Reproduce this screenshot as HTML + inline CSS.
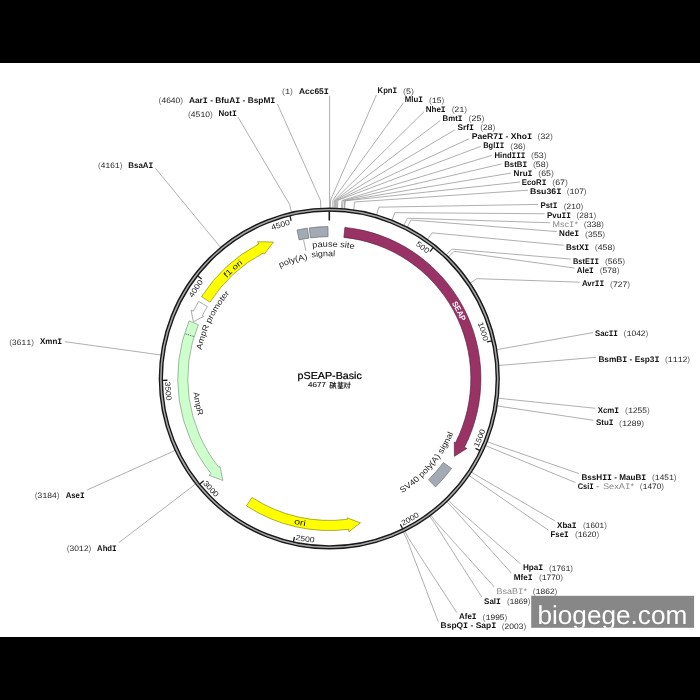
<!DOCTYPE html>
<html><head><meta charset="utf-8"><style>
html,body{margin:0;padding:0;background:#000;width:700px;height:700px;overflow:hidden}
svg{display:block;font-family:"Liberation Sans",sans-serif;will-change:transform;text-rendering:geometricPrecision}
</style></head><body>
<svg width="700" height="700" viewBox="0 0 700 700">
<rect x="0" y="0" width="700" height="700" fill="#000"/>
<rect x="0" y="63" width="700" height="574" fill="#fff"/>
<path d="M330.44,207.98L330.5,200.11L376.4,95M332.73,208.01L332.89,200.14L403.4,102.9M334.1,208.04L334.32,200.18L424,111.7M335.01,208.07L335.28,200.21L440.2,120.6M335.7,208.1L335.99,200.23L455.1,129.7M336.61,208.13L336.95,200.27L468.9,138.8M337.53,208.17L337.91,200.31L480.9,146.3M341.4,208.41L341.96,200.56L491.7,155.4M342.54,208.49L343.16,200.65L501.4,164M344.14,208.62L344.82,200.78L510.9,173.1M344.59,208.67L345.3,200.83L520,182M353.67,209.73L354.8,201.95L528,190.2M376.67,214.72L378.85,207.16L538,204.4M392.02,219.99L394.91,212.67L544.8,213.75M403.93,225.26L407.38,218.19L550.3,222.79M407.41,227.01L411.01,220.02L556.8,231.57M427.51,239.26L432.04,232.83L563.7,245.27M446.4,254.8L451.8,249.09L570.6,259.04M448.54,256.87L454.04,251.25L574.5,268.07M470.29,283.06L476.8,278.66L579.6,282.17M496.97,349.53L504.71,348.19L593,332.6M498.95,365.44L506.77,364.84L596.1,357.3M498.32,398.16L506.12,399.06L595.4,408.29M497.25,405.87L505,407.13L593.7,420.29M487.41,441.58L494.7,444.49L579.1,473.63M485.75,445.61L492.97,448.7L575.4,482.5M471.62,472.03L478.19,476.35L554.9,520.9M469.2,475.64L475.65,480.12L548.6,530.3M448.46,500.31L453.95,505.93L520.6,563.9M446.98,501.75L452.41,507.43L511.4,573.1M430.93,515.35L435.62,521.66L494.3,587M429.64,516.31L434.27,522.66L481.8,597M405.06,531.28L408.56,538.33L456.8,612.7M403.42,532.09L406.84,539.17L438.3,621.8M329.53,207.97L329.54,200.11L329.6,95.7M320.85,208.19L320.46,200.33L277.4,104M291.45,212.25L289.7,204.58L237.9,117M220.57,247.34L215.56,241.29L155.4,168.3M160.78,354.97L153.01,353.88L65,341.7M174.99,450.42L167.87,453.74L87.1,490M195.51,483.94L189.34,488.8L118.9,542.6" fill="none" stroke="#9a9a9a" stroke-width="0.8"/>
<ellipse cx="329.3" cy="378.55" rx="168.45" ry="168.87" fill="none" stroke="#a8a8a8" stroke-width="1.4"/>
<ellipse cx="329.3" cy="378.55" rx="169.85" ry="170.27" fill="none" stroke="#1a1a1a" stroke-width="1.5"/>
<ellipse cx="329.3" cy="378.55" rx="167.05" ry="167.47" fill="none" stroke="#1a1a1a" stroke-width="1.5"/>
<path d="M329.3,211.08L329.3,220.51" stroke="#1e1e1e" stroke-width="1.6"/>
<path d="M433.26,247.46L430.02,251.54" stroke="#1e1e1e" stroke-width="1.3"/>
<path id="t1" d="M218.14,265.43A158.4,158.8 0 0 1 472.35,446.74" fill="none"/>
<text font-size="7.6" fill="#222" font-weight="normal"><textPath href="#t1" startOffset="50%" text-anchor="middle" textLength="14.3" lengthAdjust="spacingAndGlyphs">500</textPath></text>
<path d="M492.05,340.8L486.98,341.97" stroke="#1e1e1e" stroke-width="1.3"/>
<path id="t2" d="M310.08,220.93A158.4,158.8 0 0 1 401.14,520.08" fill="none"/>
<text font-size="7.6" fill="#222" font-weight="normal"><textPath href="#t2" startOffset="50%" text-anchor="middle" textLength="19.2" lengthAdjust="spacingAndGlyphs">1000</textPath></text>
<path d="M480.13,450.54L475.43,448.3" stroke="#1e1e1e" stroke-width="1.3"/>
<path id="t3" d="M296.3,539.9A164.3,164.71 0 0 0 415.36,238.24" fill="none"/>
<text font-size="7.6" fill="#222" font-weight="normal"><textPath href="#t3" startOffset="50%" text-anchor="middle" textLength="19.2" lengthAdjust="spacingAndGlyphs">1500</textPath></text>
<path d="M402.67,529L400.39,524.31" stroke="#1e1e1e" stroke-width="1.3"/>
<path id="t4" d="M203.3,484.26A164.3,164.71 0 0 0 483.76,322.42" fill="none"/>
<text font-size="7.6" fill="#222" font-weight="normal"><textPath href="#t4" startOffset="50%" text-anchor="middle" textLength="19.2" lengthAdjust="spacingAndGlyphs">2000</textPath></text>
<path d="M293.34,542.09L294.46,537" stroke="#1e1e1e" stroke-width="1.3"/>
<path id="t5" d="M165.05,382.69A164.3,164.71 0 0 0 485.05,430.98" fill="none"/>
<text font-size="7.6" fill="#222" font-weight="normal"><textPath href="#t5" startOffset="50%" text-anchor="middle" textLength="19.2" lengthAdjust="spacingAndGlyphs">2500</textPath></text>
<path d="M199.63,484.13L203.67,480.84" stroke="#1e1e1e" stroke-width="1.3"/>
<path id="t6" d="M198.16,279.32A164.3,164.71 0 0 0 418.67,516.76" fill="none"/>
<text font-size="7.6" fill="#222" font-weight="normal"><textPath href="#t6" startOffset="50%" text-anchor="middle" textLength="19.2" lengthAdjust="spacingAndGlyphs">3000</textPath></text>
<path d="M162.26,380.29L167.46,380.24" stroke="#1e1e1e" stroke-width="1.3"/>
<path id="t7" d="M288.25,219.06A164.3,164.71 0 0 0 313.46,542.49" fill="none"/>
<text font-size="7.6" fill="#222" font-weight="normal"><textPath href="#t7" startOffset="50%" text-anchor="middle" textLength="19.2" lengthAdjust="spacingAndGlyphs">3500</textPath></text>
<path d="M197.47,275.7L201.57,278.9" stroke="#1e1e1e" stroke-width="1.3"/>
<path id="t8" d="M219.37,492.88A158.4,158.8 0 0 1 393.59,233.42" fill="none"/>
<text font-size="7.6" fill="#222" font-weight="normal"><textPath href="#t8" startOffset="50%" text-anchor="middle" textLength="19.2" lengthAdjust="spacingAndGlyphs">4000</textPath></text>
<path d="M289.95,215.79L291.18,220.86" stroke="#1e1e1e" stroke-width="1.3"/>
<path id="t9" d="M172.28,399.46A158.4,158.8 0 0 1 469.72,305.06" fill="none"/>
<text font-size="7.6" fill="#222" font-weight="normal"><textPath href="#t9" startOffset="50%" text-anchor="middle" textLength="19.2" lengthAdjust="spacingAndGlyphs">4500</textPath></text>
<path d="M344.88,227.38A151.6,151.98 0 0 1 464.5,447.31L466.82,448.49L454.4,456.31L454.24,442.09L455.53,442.75A141.55,141.9 0 0 0 343.85,237.4Z" fill="#993366" stroke="#4f1a36" stroke-width="0.6" stroke-linejoin="miter" />
<path d="M451.48,468.52A151.6,151.98 0 0 1 435.56,486.95L428.51,479.76A141.55,141.9 0 0 0 443.38,462.56Z" fill="#a4aab3" stroke="#6b7078" stroke-width="0.7" stroke-linejoin="miter" />
<path d="M246.51,505.87A151.6,151.98 0 0 0 348.56,529.3L348.89,531.88L360.41,522.79L347.1,517.86L347.29,519.3A141.55,141.9 0 0 1 252,497.43Z" fill="#ffff00" stroke="#8a8a20" stroke-width="0.7" stroke-linejoin="miter" />
<path d="M189.04,320.88A151.6,151.98 0 0 0 210.99,473.57L208.96,475.2L222.88,480.5L219.96,466.37L218.83,467.27A141.55,141.9 0 0 1 198.34,324.7Z" fill="#ccffcc" stroke="#7f9a7f" stroke-width="0.7" stroke-linejoin="miter" />
<path d="M198.68,301.41A151.6,151.98 0 0 0 193.39,311.21L191.06,310.06L193.4,321.84L203.7,316.32L202.4,315.68A141.55,141.9 0 0 1 207.34,306.53Z" fill="#ffffff" stroke="#8a8a8a" stroke-width="0.7" stroke-linejoin="miter" />
<path d="M201.58,296.67A151.6,151.98 0 0 1 258.83,243.99L257.62,241.68L273.44,242.02L264.18,254.2L263.5,252.91A141.55,141.9 0 0 0 210.05,302.1Z" fill="#ffff00" stroke="#8a8a20" stroke-width="0.7" stroke-linejoin="miter" />
<path d="M297,230.06A151.6,151.98 0 0 1 307.42,228.16L308.87,238.13A141.55,141.9 0 0 0 299.15,239.9Z" fill="#a4aab3" stroke="#6b7078" stroke-width="0.7" stroke-linejoin="miter" />
<path d="M309.25,227.91A151.6,151.98 0 0 1 327.98,226.58L328.06,236.65A141.55,141.9 0 0 0 310.58,237.89Z" fill="#a4aab3" stroke="#6b7078" stroke-width="0.7" stroke-linejoin="miter" />
<path d="M193.6,336.44L184.96,333.76" stroke="#444" stroke-width="0.9" stroke-dasharray="1.2,1.2"/>
<path id="fSEAP" d="M286.12,241.25A143.6,143.96 0 0 1 416.72,492.76" fill="none"/>
<text font-size="8" fill="#fff" font-weight="bold"><textPath href="#fSEAP" startOffset="50%" text-anchor="middle" textLength="21" lengthAdjust="spacingAndGlyphs">SEAP</textPath></text>
<path id="ff1" d="M206.56,453.07A143.5,143.86 0 0 1 419.22,266.44" fill="none"/>
<text font-size="8" fill="#111" font-weight="normal"><textPath href="#ff1" startOffset="50%" text-anchor="middle" textLength="22" lengthAdjust="spacingAndGlyphs">f1 ori</textPath></text>
<path id="fori" d="M180.25,374.64A149.1,149.47 0 0 0 468.03,433.33" fill="none"/>
<text font-size="8.2" fill="#111" font-weight="normal"><textPath href="#fori" startOffset="50%" text-anchor="middle" textLength="12" lengthAdjust="spacingAndGlyphs">ori</textPath></text>
<path id="fAmpR" d="M280.64,250.81A136.4,136.74 0 0 0 331.44,515.27" fill="none"/>
<text font-size="8.3" fill="#222" font-weight="normal"><textPath href="#fAmpR" startOffset="50%" text-anchor="middle" textLength="24" lengthAdjust="spacingAndGlyphs">AmpR</textPath></text>
<path id="fAP" d="M251.19,483.98A131,131.33 0 0 1 366.73,252.7" fill="none"/>
<text font-size="8.2" fill="#222" font-weight="normal"><textPath href="#fAP" startOffset="50%" text-anchor="middle" textLength="64" lengthAdjust="spacingAndGlyphs">AmpR promoter</textPath></text>
<path id="fSV" d="M260.12,495.35A135.5,135.84 0 0 0 434.16,292.51" fill="none"/>
<text font-size="8.2" fill="#222" font-weight="normal"><textPath href="#fSV" startOffset="50%" text-anchor="middle" textLength="80" lengthAdjust="spacingAndGlyphs">SV40 poly(A) signal</textPath></text>
<path id="fPS" d="M200.58,351.59A131.5,131.83 0 0 1 459.46,359.75" fill="none"/>
<text font-size="8.3" fill="#222" font-weight="normal"><textPath href="#fPS" startOffset="50%" text-anchor="middle" textLength="42" lengthAdjust="spacingAndGlyphs">pause site</textPath></text>
<path id="fPA" d="M209.23,393.54A121,121.3 0 0 1 437.02,323.29" fill="none"/>
<text font-size="8.3" fill="#222" font-weight="normal"><textPath href="#fPA" startOffset="50%" text-anchor="middle" textLength="29.2" lengthAdjust="spacingAndGlyphs">poly(A)</textPath></text>
<path id="fPA2" d="M208.26,363.22A122,122.3 0 0 1 448.27,351.45" fill="none"/>
<text font-size="8.3" fill="#222" font-weight="normal"><textPath href="#fPA2" startOffset="50%" text-anchor="middle" textLength="23.6" lengthAdjust="spacingAndGlyphs">signal</textPath></text>
<path d="M303.6,239.9L305.7,250.6" stroke="#9a9a9a" stroke-width="0.8"/>
<text x="329.7" y="378.7" text-anchor="middle" font-size="10.1" fill="#000" stroke="#000" stroke-width="0.22" textLength="64.2" lengthAdjust="spacingAndGlyphs">pSEAP-Basic</text>
<text x="308" y="387.3" font-size="7.2" fill="#222" stroke="#222" stroke-width="0.12" textLength="17.9" lengthAdjust="spacingAndGlyphs">4677</text>
<g stroke="#222" stroke-width="0.85" fill="none" stroke-linecap="square"><path d="M330.1,382.6h2.2M331,382.6L330.2,386M330.6,385.4h1.6v2.6h-1.6z"/><path d="M332.8,383.5h2.9M333.2,383.5v4.6M333.9,384.9h1v1.4h-1zM334.6,382.3q0.3,3.5 1.2,6.1"/><path d="M338,383h4.8M339.1,382.1v3.8M341.7,382.1v3.8M339.1,384.2h2.6M337.9,386.1h4.9M340.4,386.1v2.2M339.1,387.2h2.6M338.3,388.3h4.2"/><path d="M344,383h2.3l-2.3,5.2M344.5,384.7l2.2,3.5M346.8,384.2h3.5M349.3,382.1v6.1l-0.8,-0.4M347.5,385.8l0.5,0.8"/></g>
<g font-size="8.2" fill="#111"><text x="377.6" y="93.3" font-weight="bold" textLength="19.5" lengthAdjust="spacingAndGlyphs">Kpn<tspan font-family="Liberation Mono">I</tspan></text><text x="403.1" y="93.7" font-size="7.9" textLength="10.9" lengthAdjust="spacingAndGlyphs" fill="#222"><tspan fill="#666">(</tspan>5<tspan fill="#666">)</tspan></text><text x="404.7" y="102.4" font-weight="bold" textLength="18.2" lengthAdjust="spacingAndGlyphs">Mlu<tspan font-family="Liberation Mono">I</tspan></text><text x="428.9" y="102.8" font-size="7.9" textLength="15.4" lengthAdjust="spacingAndGlyphs" fill="#222"><tspan fill="#666">(</tspan><tspan font-family="Liberation Mono">1</tspan>5<tspan fill="#666">)</tspan></text><text x="425.7" y="111.7" font-weight="bold" textLength="20" lengthAdjust="spacingAndGlyphs">Nhe<tspan font-family="Liberation Mono">I</tspan></text><text x="451.7" y="112.1" font-size="7.9" textLength="15.4" lengthAdjust="spacingAndGlyphs" fill="#222"><tspan fill="#666">(</tspan>2<tspan font-family="Liberation Mono">1</tspan><tspan fill="#666">)</tspan></text><text x="442.6" y="120.7" font-weight="bold" textLength="19.9" lengthAdjust="spacingAndGlyphs">Bmt<tspan font-family="Liberation Mono">I</tspan></text><text x="468.5" y="121.1" font-size="7.9" textLength="15.9" lengthAdjust="spacingAndGlyphs" fill="#222"><tspan fill="#666">(</tspan>25<tspan fill="#666">)</tspan></text><text x="457.6" y="129.7" font-weight="bold" textLength="16.3" lengthAdjust="spacingAndGlyphs">Srf<tspan font-family="Liberation Mono">I</tspan></text><text x="480.3" y="130.1" font-size="7.9" textLength="15" lengthAdjust="spacingAndGlyphs" fill="#222"><tspan fill="#666">(</tspan>28<tspan fill="#666">)</tspan></text><text x="471.7" y="139" font-weight="bold" textLength="60.4" lengthAdjust="spacingAndGlyphs">PaeR7<tspan font-family="Liberation Mono">I</tspan> - Xho<tspan font-family="Liberation Mono">I</tspan></text><text x="537.5" y="139.4" font-size="7.9" textLength="15.4" lengthAdjust="spacingAndGlyphs" fill="#222"><tspan fill="#666">(</tspan>32<tspan fill="#666">)</tspan></text><text x="483.2" y="148.3" font-weight="bold" textLength="21" lengthAdjust="spacingAndGlyphs">Bgl<tspan font-family="Liberation Mono">I</tspan><tspan font-family="Liberation Mono">I</tspan></text><text x="510.3" y="148.7" font-size="7.9" textLength="15.4" lengthAdjust="spacingAndGlyphs" fill="#222"><tspan fill="#666">(</tspan>36<tspan fill="#666">)</tspan></text><text x="494.6" y="157.6" font-weight="bold" textLength="30.8" lengthAdjust="spacingAndGlyphs">Hind<tspan font-family="Liberation Mono">I</tspan><tspan font-family="Liberation Mono">I</tspan><tspan font-family="Liberation Mono">I</tspan></text><text x="531" y="158" font-size="7.9" textLength="15.7" lengthAdjust="spacingAndGlyphs" fill="#222"><tspan fill="#666">(</tspan>53<tspan fill="#666">)</tspan></text><text x="504.2" y="166.8" font-weight="bold" textLength="22.9" lengthAdjust="spacingAndGlyphs">BstB<tspan font-family="Liberation Mono">I</tspan></text><text x="532.9" y="167.2" font-size="7.9" textLength="15.7" lengthAdjust="spacingAndGlyphs" fill="#222"><tspan fill="#666">(</tspan>58<tspan fill="#666">)</tspan></text><text x="513.6" y="175.8" font-weight="bold" textLength="18.9" lengthAdjust="spacingAndGlyphs">Nru<tspan font-family="Liberation Mono">I</tspan></text><text x="538.3" y="176.2" font-size="7.9" textLength="15.6" lengthAdjust="spacingAndGlyphs" fill="#222"><tspan fill="#666">(</tspan>65<tspan fill="#666">)</tspan></text><text x="521.8" y="185" font-weight="bold" textLength="24.6" lengthAdjust="spacingAndGlyphs">EcoR<tspan font-family="Liberation Mono">I</tspan></text><text x="552.2" y="185.4" font-size="7.9" textLength="15.7" lengthAdjust="spacingAndGlyphs" fill="#222"><tspan fill="#666">(</tspan>67<tspan fill="#666">)</tspan></text><text x="529.9" y="194" font-weight="bold" textLength="31.5" lengthAdjust="spacingAndGlyphs">Bsu36<tspan font-family="Liberation Mono">I</tspan></text><text x="566.8" y="194.4" font-size="7.9" textLength="19.7" lengthAdjust="spacingAndGlyphs" fill="#222"><tspan fill="#666">(</tspan><tspan font-family="Liberation Mono">1</tspan>07<tspan fill="#666">)</tspan></text><text x="540.6" y="208.4" font-weight="bold" textLength="16.8" lengthAdjust="spacingAndGlyphs">Pst<tspan font-family="Liberation Mono">I</tspan></text><text x="563.7" y="208.8" font-size="7.9" textLength="19.7" lengthAdjust="spacingAndGlyphs" fill="#222"><tspan fill="#666">(</tspan>2<tspan font-family="Liberation Mono">1</tspan>0<tspan fill="#666">)</tspan></text><text x="547.1" y="217.8" font-weight="bold" textLength="23.8" lengthAdjust="spacingAndGlyphs">Pvu<tspan font-family="Liberation Mono">I</tspan><tspan font-family="Liberation Mono">I</tspan></text><text x="576.6" y="218.2" font-size="7.9" textLength="19.7" lengthAdjust="spacingAndGlyphs" fill="#222"><tspan fill="#666">(</tspan>28<tspan font-family="Liberation Mono">1</tspan><tspan fill="#666">)</tspan></text><text x="552.6" y="227" textLength="25.3" lengthAdjust="spacingAndGlyphs" fill="#888">Msc<tspan font-family="Liberation Mono">I</tspan>*</text><text x="583.8" y="227.4" font-size="7.9" textLength="20.2" lengthAdjust="spacingAndGlyphs" fill="#222"><tspan fill="#666">(</tspan>338<tspan fill="#666">)</tspan></text><text x="559.1" y="236.1" font-weight="bold" textLength="20" lengthAdjust="spacingAndGlyphs">Nde<tspan font-family="Liberation Mono">I</tspan></text><text x="585.1" y="236.5" font-size="7.9" textLength="20.1" lengthAdjust="spacingAndGlyphs" fill="#222"><tspan fill="#666">(</tspan>355<tspan fill="#666">)</tspan></text><text x="566" y="249.9" font-weight="bold" textLength="23.1" lengthAdjust="spacingAndGlyphs">BstX<tspan font-family="Liberation Mono">I</tspan></text><text x="594.8" y="250.3" font-size="7.9" textLength="20.4" lengthAdjust="spacingAndGlyphs" fill="#222"><tspan fill="#666">(</tspan>458<tspan fill="#666">)</tspan></text><text x="572.9" y="263.6" font-weight="bold" textLength="26" lengthAdjust="spacingAndGlyphs">BstE<tspan font-family="Liberation Mono">I</tspan><tspan font-family="Liberation Mono">I</tspan></text><text x="604.9" y="264" font-size="7.9" textLength="20.2" lengthAdjust="spacingAndGlyphs" fill="#222"><tspan fill="#666">(</tspan>565<tspan fill="#666">)</tspan></text><text x="576.8" y="273" font-weight="bold" textLength="17" lengthAdjust="spacingAndGlyphs">Ale<tspan font-family="Liberation Mono">I</tspan></text><text x="599.8" y="273.4" font-size="7.9" textLength="19.7" lengthAdjust="spacingAndGlyphs" fill="#222"><tspan fill="#666">(</tspan>578<tspan fill="#666">)</tspan></text><text x="581.9" y="286.4" font-weight="bold" textLength="22.3" lengthAdjust="spacingAndGlyphs">Avr<tspan font-family="Liberation Mono">I</tspan><tspan font-family="Liberation Mono">I</tspan></text><text x="610.1" y="286.8" font-size="7.9" textLength="19.9" lengthAdjust="spacingAndGlyphs" fill="#222"><tspan fill="#666">(</tspan>727<tspan fill="#666">)</tspan></text><text x="595" y="336" font-weight="bold" textLength="23" lengthAdjust="spacingAndGlyphs">Sac<tspan font-family="Liberation Mono">I</tspan><tspan font-family="Liberation Mono">I</tspan></text><text x="623.6" y="336.4" font-size="7.9" textLength="24.8" lengthAdjust="spacingAndGlyphs" fill="#222"><tspan fill="#666">(</tspan><tspan font-family="Liberation Mono">1</tspan>042<tspan fill="#666">)</tspan></text><text x="598.4" y="361.6" font-weight="bold" textLength="61" lengthAdjust="spacingAndGlyphs">BsmB<tspan font-family="Liberation Mono">I</tspan> - Esp3<tspan font-family="Liberation Mono">I</tspan></text><text x="665" y="362" font-size="7.9" textLength="25" lengthAdjust="spacingAndGlyphs" fill="#222"><tspan fill="#666">(</tspan><tspan font-family="Liberation Mono">1</tspan><tspan font-family="Liberation Mono">1</tspan><tspan font-family="Liberation Mono">1</tspan>2<tspan fill="#666">)</tspan></text><text x="597.7" y="413" font-weight="bold" textLength="21.4" lengthAdjust="spacingAndGlyphs">Xcm<tspan font-family="Liberation Mono">I</tspan></text><text x="625.1" y="413.4" font-size="7.9" textLength="24.6" lengthAdjust="spacingAndGlyphs" fill="#222"><tspan fill="#666">(</tspan><tspan font-family="Liberation Mono">1</tspan>255<tspan fill="#666">)</tspan></text><text x="596" y="425.3" font-weight="bold" textLength="17.5" lengthAdjust="spacingAndGlyphs">Stu<tspan font-family="Liberation Mono">I</tspan></text><text x="619.1" y="425.7" font-size="7.9" textLength="24.9" lengthAdjust="spacingAndGlyphs" fill="#222"><tspan fill="#666">(</tspan><tspan font-family="Liberation Mono">1</tspan>289<tspan fill="#666">)</tspan></text><text x="581.4" y="479.9" font-weight="bold" textLength="64.8" lengthAdjust="spacingAndGlyphs">BssH<tspan font-family="Liberation Mono">I</tspan><tspan font-family="Liberation Mono">I</tspan> - MauB<tspan font-family="Liberation Mono">I</tspan></text><text x="652.1" y="480.3" font-size="7.9" textLength="24.5" lengthAdjust="spacingAndGlyphs" fill="#222"><tspan fill="#666">(</tspan><tspan font-family="Liberation Mono">1</tspan>45<tspan font-family="Liberation Mono">1</tspan><tspan fill="#666">)</tspan></text><text x="577.7" y="489" font-weight="bold" textLength="16.1" lengthAdjust="spacingAndGlyphs">Csi<tspan font-family="Liberation Mono">I</tspan></text><text x="596.3" y="489" textLength="2.8" lengthAdjust="spacingAndGlyphs" fill="#444">-</text><text x="602.9" y="489" textLength="31.1" lengthAdjust="spacingAndGlyphs" fill="#888">SexA<tspan font-family="Liberation Mono">I</tspan>*</text><text x="639.7" y="489.4" font-size="7.9" textLength="24.4" lengthAdjust="spacingAndGlyphs" fill="#222"><tspan fill="#666">(</tspan><tspan font-family="Liberation Mono">1</tspan>470<tspan fill="#666">)</tspan></text><text x="557.1" y="527.7" font-weight="bold" textLength="19.5" lengthAdjust="spacingAndGlyphs">Xba<tspan font-family="Liberation Mono">I</tspan></text><text x="582.9" y="528.1" font-size="7.9" textLength="24" lengthAdjust="spacingAndGlyphs" fill="#222"><tspan fill="#666">(</tspan><tspan font-family="Liberation Mono">1</tspan>60<tspan font-family="Liberation Mono">1</tspan><tspan fill="#666">)</tspan></text><text x="550.6" y="536.6" font-weight="bold" textLength="18" lengthAdjust="spacingAndGlyphs">Fse<tspan font-family="Liberation Mono">I</tspan></text><text x="574.9" y="537" font-size="7.9" textLength="24.3" lengthAdjust="spacingAndGlyphs" fill="#222"><tspan fill="#666">(</tspan><tspan font-family="Liberation Mono">1</tspan>620<tspan fill="#666">)</tspan></text><text x="522.9" y="570.4" font-weight="bold" textLength="20.3" lengthAdjust="spacingAndGlyphs">Hpa<tspan font-family="Liberation Mono">I</tspan></text><text x="548.9" y="570.8" font-size="7.9" textLength="24.2" lengthAdjust="spacingAndGlyphs" fill="#222"><tspan fill="#666">(</tspan><tspan font-family="Liberation Mono">1</tspan>76<tspan font-family="Liberation Mono">1</tspan><tspan fill="#666">)</tspan></text><text x="513.7" y="579.6" font-weight="bold" textLength="18.9" lengthAdjust="spacingAndGlyphs">Mfe<tspan font-family="Liberation Mono">I</tspan></text><text x="538.9" y="580" font-size="7.9" textLength="24.2" lengthAdjust="spacingAndGlyphs" fill="#222"><tspan fill="#666">(</tspan><tspan font-family="Liberation Mono">1</tspan>770<tspan fill="#666">)</tspan></text><text x="496.6" y="593.5" textLength="30.4" lengthAdjust="spacingAndGlyphs" fill="#888">BsaB<tspan font-family="Liberation Mono">I</tspan>*</text><text x="532.7" y="593.9" font-size="7.9" textLength="24.7" lengthAdjust="spacingAndGlyphs" fill="#222"><tspan fill="#666">(</tspan><tspan font-family="Liberation Mono">1</tspan>862<tspan fill="#666">)</tspan></text><text x="484.1" y="603.5" font-weight="bold" textLength="16.7" lengthAdjust="spacingAndGlyphs">Sal<tspan font-family="Liberation Mono">I</tspan></text><text x="506.9" y="603.9" font-size="7.9" textLength="23.5" lengthAdjust="spacingAndGlyphs" fill="#222"><tspan fill="#666">(</tspan><tspan font-family="Liberation Mono">1</tspan>869<tspan fill="#666">)</tspan></text><text x="459.1" y="619.2" font-weight="bold" textLength="17.5" lengthAdjust="spacingAndGlyphs">Afe<tspan font-family="Liberation Mono">I</tspan></text><text x="482.6" y="619.6" font-size="7.9" textLength="24.8" lengthAdjust="spacingAndGlyphs" fill="#222"><tspan fill="#666">(</tspan><tspan font-family="Liberation Mono">1</tspan>995<tspan fill="#666">)</tspan></text><text x="440.6" y="628.3" font-weight="bold" textLength="55.7" lengthAdjust="spacingAndGlyphs">BspQ<tspan font-family="Liberation Mono">I</tspan> - Sap<tspan font-family="Liberation Mono">I</tspan></text><text x="501.8" y="628.7" font-size="7.9" textLength="24.5" lengthAdjust="spacingAndGlyphs" fill="#222"><tspan fill="#666">(</tspan>2003<tspan fill="#666">)</tspan></text><text x="298.9" y="93.6" font-weight="bold" textLength="30" lengthAdjust="spacingAndGlyphs">Acc65<tspan font-family="Liberation Mono">I</tspan></text><text x="282.1" y="94" font-size="7.9" textLength="10.8" lengthAdjust="spacingAndGlyphs" fill="#222"><tspan fill="#666">(</tspan><tspan font-family="Liberation Mono">1</tspan><tspan fill="#666">)</tspan></text><text x="188.9" y="102.6" font-weight="bold" textLength="86.5" lengthAdjust="spacingAndGlyphs">Aar<tspan font-family="Liberation Mono">I</tspan> - BfuA<tspan font-family="Liberation Mono">I</tspan> - BspM<tspan font-family="Liberation Mono">I</tspan></text><text x="158.6" y="103" font-size="7.9" textLength="24.5" lengthAdjust="spacingAndGlyphs" fill="#222"><tspan fill="#666">(</tspan>4640<tspan fill="#666">)</tspan></text><text x="218.6" y="116.3" font-weight="bold" textLength="18.1" lengthAdjust="spacingAndGlyphs">Not<tspan font-family="Liberation Mono">I</tspan></text><text x="187.9" y="116.7" font-size="7.9" textLength="25" lengthAdjust="spacingAndGlyphs" fill="#222"><tspan fill="#666">(</tspan>45<tspan font-family="Liberation Mono">1</tspan>0<tspan fill="#666">)</tspan></text><text x="128.3" y="167.9" font-weight="bold" textLength="25" lengthAdjust="spacingAndGlyphs">BsaA<tspan font-family="Liberation Mono">I</tspan></text><text x="97.9" y="168.3" font-size="7.9" textLength="24.7" lengthAdjust="spacingAndGlyphs" fill="#222"><tspan fill="#666">(</tspan>4<tspan font-family="Liberation Mono">1</tspan>6<tspan font-family="Liberation Mono">1</tspan><tspan fill="#666">)</tspan></text><text x="40" y="344.4" font-weight="bold" textLength="22.1" lengthAdjust="spacingAndGlyphs">Xmn<tspan font-family="Liberation Mono">I</tspan></text><text x="9.3" y="344.8" font-size="7.9" textLength="24.7" lengthAdjust="spacingAndGlyphs" fill="#222"><tspan fill="#666">(</tspan>36<tspan font-family="Liberation Mono">1</tspan><tspan font-family="Liberation Mono">1</tspan><tspan fill="#666">)</tspan></text><text x="65.7" y="497.6" font-weight="bold" textLength="18.9" lengthAdjust="spacingAndGlyphs">Ase<tspan font-family="Liberation Mono">I</tspan></text><text x="34.7" y="498" font-size="7.9" textLength="24.9" lengthAdjust="spacingAndGlyphs" fill="#222"><tspan fill="#666">(</tspan>3<tspan font-family="Liberation Mono">1</tspan>84<tspan fill="#666">)</tspan></text><text x="97.1" y="550.7" font-weight="bold" textLength="19.6" lengthAdjust="spacingAndGlyphs">Ahd<tspan font-family="Liberation Mono">I</tspan></text><text x="66.7" y="551.1" font-size="7.9" textLength="24.7" lengthAdjust="spacingAndGlyphs" fill="#222"><tspan fill="#666">(</tspan>30<tspan font-family="Liberation Mono">1</tspan>2<tspan fill="#666">)</tspan></text></g>
<rect x="531.2" y="595.8" width="162.9" height="32" fill="#878787"/>
<svg x="531.2" y="595.8" width="162.9" height="32" overflow="hidden"><text x="6.2" y="27.9" font-size="26" fill="#fff" textLength="149.9" lengthAdjust="spacingAndGlyphs">biogege.com</text></svg>
</svg>
</body></html>
